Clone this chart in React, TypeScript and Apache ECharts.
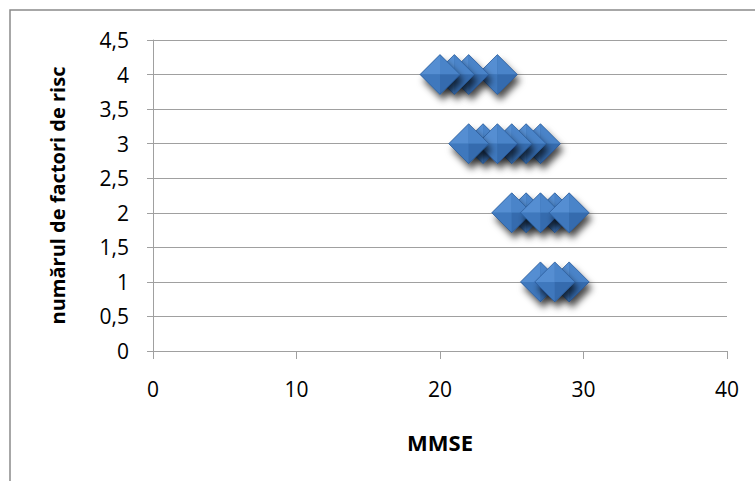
import React, { useEffect, useRef } from "react";
import * as echarts from "echarts";

// MMSE scores grouped by number of risk factors (listed back-to-front for overlap)
const mmseFactors4 = [24, 22, 21, 20];
const mmseFactors3 = [27, 26, 25, 23, 24, 22];
const mmseFactors2 = [26, 28, 25, 27, 29];
const mmseFactors1 = [27, 29, 28];

const riskCounts = [4, 3, 2, 1];
const groups = [mmseFactors4, mmseFactors3, mmseFactors2, mmseFactors1];

const xTicks = { min: 0, max: 40, interval: 10 };
const yTicks = { min: 0, max: 4.5, interval: 0.5 };

const xTitle = "MMSE";
const yTitle = "numărul de factori de risc";

const FONT = "'Open Sans', 'DejaVu Sans', sans-serif";

export default function App() {
  const ref = useRef<HTMLDivElement>(null);

  useEffect(() => {
    if (!ref.current) return;
    const chart = echarts.init(ref.current, undefined, { renderer: "svg" });

    const points: number[][] = [];
    groups.forEach((g, i) => g.forEach((x) => points.push([x, riskCounts[i]])));

    const halfW = 20;
    const halfH = 20;

    const renderItem = (params: any, api: any) => {
      const [cx, cy] = api.coord([api.value(0), api.value(1)]);
      const top = [cx, cy - halfH];
      const right = [cx + halfW, cy];
      const bottom = [cx, cy + halfH];
      const left = [cx - halfW, cy];
      const mid = [cx, cy];
      return {
        type: "group",
        children: [
          {
            type: "polygon",
            shape: { points: [top, right, bottom, left] },
            style: {
              fill: "#3a6fb0",
              shadowBlur: 7,
              shadowOffsetX: 3,
              shadowOffsetY: 6,
              shadowColor: "rgba(0,0,0,0.7)",
            },
          },
          { type: "polygon", shape: { points: [left, top, mid] }, style: { fill: "#558ed2" } },
          { type: "polygon", shape: { points: [top, right, mid] }, style: { fill: "#4a84c9" } },
          { type: "polygon", shape: { points: [left, mid, bottom] }, style: { fill: "#3f78bd" } },
          { type: "polygon", shape: { points: [mid, right, bottom] }, style: { fill: "#356bae" } },
          {
            type: "polygon",
            shape: { points: [top, right, bottom, left] },
            style: { fill: "none", stroke: "rgba(35,80,140,0.7)", lineWidth: 0.8 },
          },
        ],
      };
    };

    chart.setOption({
      animation: false,
      backgroundColor: "#ffffff",
      grid: { left: 153, right: 28, top: 40, bottom: 130, containLabel: false },
      graphic: [
        {
          type: "rect",
          shape: { x: 10, y: 10, width: 760, height: 490 },
          style: { fill: "none", stroke: "#8a8a8a", lineWidth: 1.5 },
          silent: true,
        },
      ],
      xAxis: {
        type: "value",
        min: xTicks.min,
        max: xTicks.max,
        interval: xTicks.interval,
        name: xTitle,
        nameLocation: "middle",
        nameGap: 80,
        nameTextStyle: { fontFamily: FONT, fontSize: 22, fontWeight: "bold", color: "#000" },
        axisLine: { show: true, lineStyle: { color: "#a0a0a0", width: 1 } },
        axisTick: { show: true, length: 8, lineStyle: { color: "#a0a0a0" } },
        axisLabel: { fontFamily: FONT, fontSize: 21, color: "#000", margin: 27 },
        splitLine: { show: false },
      },
      yAxis: {
        type: "value",
        min: yTicks.min,
        max: yTicks.max,
        interval: yTicks.interval,
        name: yTitle,
        nameLocation: "middle",
        nameRotate: 90,
        nameGap: 86,
        nameTextStyle: { fontFamily: FONT, fontSize: 20, fontWeight: "bold", color: "#000" },
        axisLine: { show: true, lineStyle: { color: "#a0a0a0", width: 1 } },
        axisTick: { show: true, length: 6, lineStyle: { color: "#a0a0a0" } },
        axisLabel: {
          fontFamily: FONT,
          fontSize: 21,
          color: "#000",
          margin: 24,
          formatter: (v: number) => String(v).replace(".", ","),
        },
        splitLine: { show: true, lineStyle: { color: "#a0a0a0", width: 1 } },
      },
      series: [
        {
          type: "custom",
          renderItem,
          data: points,
          clip: false,
        },
      ],
    });

    return () => chart.dispose();
  }, []);

  return <div ref={ref} style={{ width: 755, height: 481, position: "absolute", left: 0, top: 0 }} />;
}
